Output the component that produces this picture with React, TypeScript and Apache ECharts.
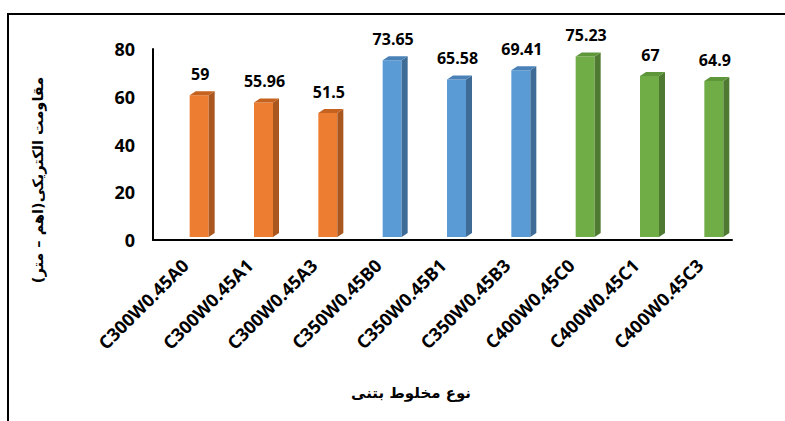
import React, { useEffect, useRef } from "react";
import * as echarts from "echarts";

const categories = [
  "C300W0.45A0",
  "C300W0.45A1",
  "C300W0.45A3",
  "C350W0.45B0",
  "C350W0.45B1",
  "C350W0.45B3",
  "C400W0.45C0",
  "C400W0.45C1",
  "C400W0.45C3",
];
const values = [59, 55.96, 51.5, 73.65, 65.58, 69.41, 75.23, 67, 64.9];
const labelTexts = ["59", "55.96", "51.5", "73.65", "65.58", "69.41", "75.23", "67", "64.9"];
const groups = [0, 0, 0, 1, 1, 1, 2, 2, 2];
const yTicks = [0, 20, 40, 60, 80];
const yTitle = "مقاومت الکتریکی(اهم – متر)";
const xTitle = "نوع مخلوط بتنی";

const frontColors = ["#ED7D31", "#5B9BD5", "#70AD47"];
const sideColors = ["#A9561F", "#3E6C96", "#4E7B31"];
const topColors = ["#C6621F", "#4A82B8", "#5E963A"];

const LATIN = "'Noto Sans', 'Open Sans', sans-serif";
const PERSIAN = "'DejaVu Sans', 'Noto Sans', sans-serif";

export default function App() {
  const ref = useRef<HTMLDivElement>(null);
  useEffect(() => {
    if (!ref.current) return;
    const chart = echarts.init(ref.current, undefined, { renderer: "svg" });
    const data = values.map((v, i) => [i, v, groups[i]]);
    chart.setOption({
      animation: false,
      backgroundColor: "#ffffff",
      grid: { left: 153, right: 53, top: 49, bottom: 181, containLabel: false },
      xAxis: {
        type: "category",
        data: categories,
        axisLine: { show: true, lineStyle: { color: "#000", width: 2 } },
        axisTick: { show: false },
        axisLabel: {
          rotate: 45,
          margin: 22,
          interval: 0,
          color: "#000",
          fontFamily: LATIN,
          fontWeight: "bold",
          fontSize: 18,
        },
      },
      yAxis: {
        type: "value",
        min: yTicks[0],
        max: yTicks[yTicks.length - 1],
        interval: 20,
        splitLine: { show: false },
        axisLine: { show: true, lineStyle: { color: "#000", width: 2 } },
        axisTick: { show: false },
        axisLabel: {
          margin: 18,
          color: "#000",
          fontFamily: LATIN,
          fontWeight: "bold",
          fontSize: 18,
        },
      },
      graphic: [
        {
          type: "rect",
          shape: { x: 8, y: 14, width: 900, height: 600 },
          style: { fill: "none", stroke: "#000", lineWidth: 2 },
          silent: true,
        },
        {
          type: "text",
          x: 38,
          y: 180,
          rotation: Math.PI / 2,
          style: {
            text: yTitle,
            fontFamily: PERSIAN,
            fontWeight: "bold",
            fontSize: 14.5,
            fill: "#000",
            align: "center",
            verticalAlign: "middle",
          },
        },
        {
          type: "text",
          x: 411,
          y: 393,
          style: {
            text: xTitle,
            fontFamily: PERSIAN,
            fontWeight: "bold",
            fontSize: 15,
            fill: "#000",
            align: "center",
            verticalAlign: "middle",
          },
        },
      ],
      series: [
        {
          type: "custom",
          data,
          encode: { x: 0, y: 1 },
          renderItem: (params: any, api: any) => {
            const idx = api.value(0);
            const val = api.value(1);
            const g = api.value(2);
            const top = api.coord([idx, val]);
            const base = api.coord([idx, 0]);
            const dx = 14;
            const dy = -4;
            const w = 19;
            const d = 6;
            const h = 4;
            const x0 = top[0] + dx - w / 2;
            const yTop = top[1] + dy;
            const yBot = base[1] + dy + 1;
            return {
              type: "group",
              children: [
                {
                  type: "rect",
                  shape: { x: x0, y: yTop, width: w, height: yBot - yTop },
                  style: { fill: frontColors[g] },
                },
                {
                  type: "polygon",
                  shape: {
                    points: [
                      [x0 + w, yTop],
                      [x0 + w + d, yTop - h],
                      [x0 + w + d, yBot - h],
                      [x0 + w, yBot],
                    ],
                  },
                  style: { fill: sideColors[g] },
                },
                {
                  type: "polygon",
                  shape: {
                    points: [
                      [x0, yTop],
                      [x0 + d, yTop - h],
                      [x0 + w + d, yTop - h],
                      [x0 + w, yTop],
                    ],
                  },
                  style: { fill: topColors[g] },
                },
                {
                  type: "text",
                  x: x0 + w / 2 + 1,
                  y: yTop - 21,
                  style: {
                    text: labelTexts[idx],
                    fontFamily: LATIN,
                    fontWeight: "bold",
                    fontSize: 16,
                    fill: "#000",
                    align: "center",
                    verticalAlign: "middle",
                  },
                },
              ],
            };
          },
        },
      ],
    });
    return () => chart.dispose();
  }, []);
  return (
    <div
      ref={ref}
      style={{ position: "fixed", left: 0, top: 0, width: 785, height: 421 }}
    />
  );
}
